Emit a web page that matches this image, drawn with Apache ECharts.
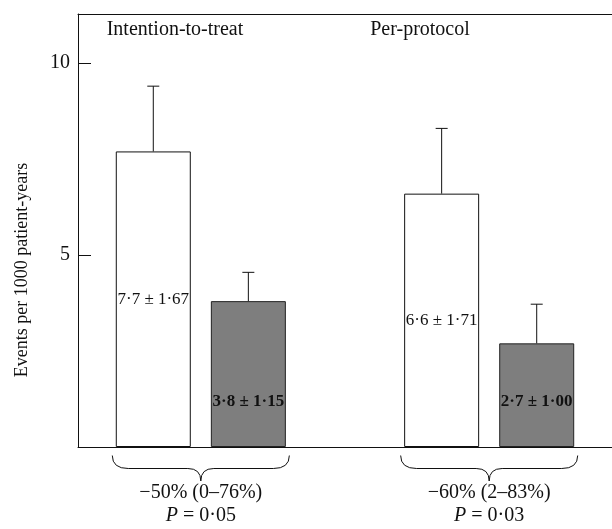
<!DOCTYPE html>
<html>
<head>
<meta charset="utf-8">
<script src="https://cdn.jsdelivr.net/npm/echarts@6/dist/echarts.min.js"></script>
<style>html,body{margin:0;padding:0;background:#fff;}#chart{width:612px;height:529px;}</style>
</head>
<body>
<div id="chart"></div>
<script>
// ---- data ----
const categories = ['Intention-to-treat', 'Per-protocol'];
const controlMeans = [7.7, 6.6];
const treatedMeans = [3.8, 2.7];
const controlUpper = [9.4, 8.3];
const treatedUpper = [4.55, 3.72];
const controlLabels = ['7·7 ± 1·67', '6·6 ± 1·71'];
const treatedLabels = ['3·8 ± 1·15', '2·7 ± 1·00'];
const reductionLabels = ['−50% (0–76%)', '−60% (2–83%)'];
const pValues = ['0·05', '0·03'];
const yTickLabels = [5, 10];
const yAxisTitle = 'Events per 1000 patient-years';

// ---- layout ----
const groupCenters = [23, 77];   // positions on a 0..100 horizontal scale
const barOffset = 8.9;
const FONT = "'Liberation Serif', 'DejaVu Serif', serif";

const chart = echarts.init(document.getElementById('chart'), null, {renderer: 'canvas'});

const controlData = controlMeans.map((v, i) => [groupCenters[i] - barOffset, v]);
const treatedData = treatedMeans.map((v, i) => [groupCenters[i] + barOffset, v]);
const errData = [];
controlMeans.forEach((v, i) => errData.push([groupCenters[i] - barOffset, v, controlUpper[i]]));
treatedMeans.forEach((v, i) => errData.push([groupCenters[i] + barOffset, v, treatedUpper[i]]));
const braceData = groupCenters.map((c, i) => [c, 0, i]);

const option = {
  animation: false,
  backgroundColor: '#fff',
  grid: {left: 78, right: 0, top: 14, bottom: 82},
  xAxis: [
    {type: 'value', min: 0, max: 100, position: 'bottom',
     axisLine: {show: true, lineStyle: {color: '#111', width: 1}},
     axisTick: {show: false}, axisLabel: {show: false}, splitLine: {show: false}},
    {type: 'value', min: 0, max: 100, position: 'top',
     axisLine: {show: true, lineStyle: {color: '#111', width: 1}},
     axisTick: {show: false}, axisLabel: {show: false}, splitLine: {show: false}}
  ],
  yAxis: {
    type: 'value', min: 0, max: 11.28, interval: 5,
    axisLine: {show: true, lineStyle: {color: '#111', width: 1}},
    axisTick: {show: true, inside: true, length: 13, lineStyle: {color: '#111'}},
    axisLabel: {
      margin: 8, color: '#111', fontSize: 20, fontFamily: FONT,
      formatter: v => (yTickLabels.indexOf(v) >= 0 ? String(v) : '')
    },
    splitLine: {show: false}
  },
  graphic: [
    {type: 'text', x: 22, y: 270, rotation: Math.PI / 2,
     style: {text: yAxisTitle, fontSize: 18, fontFamily: FONT, fill: '#111', align: 'center', verticalAlign: 'middle'}},
    {type: 'text', x: 175, y: 30,
     style: {text: categories[0], fontSize: 20, fontFamily: FONT, fill: '#111', align: 'center', verticalAlign: 'middle'}},
    {type: 'text', x: 420, y: 30,
     style: {text: categories[1], fontSize: 20, fontFamily: FONT, fill: '#111', align: 'center', verticalAlign: 'middle'}}
  ],
  series: [
    {
      type: 'bar', name: 'Control', data: controlData, barWidth: 75, barGap: '-100%',
      itemStyle: {color: '#fff', borderColor: '#111', borderWidth: 1},
      label: {show: true, position: 'inside', color: '#111', fontSize: 17, fontFamily: FONT,
              formatter: p => controlLabels[p.dataIndex]}
    },
    {
      type: 'bar', name: 'Treated', data: treatedData, barWidth: 75, barGap: '-100%',
      itemStyle: {color: '#7e7e7e', borderColor: '#222', borderWidth: 1},
      label: {show: true, position: 'insideBottom', distance: 37, color: '#111', fontSize: 17,
              fontWeight: 'bold', fontFamily: FONT,
              formatter: p => treatedLabels[p.dataIndex]}
    },
    {
      type: 'custom', name: 'Error', data: errData, encode: {x: 0, y: 1}, z: 5,
      renderItem: (params, api) => {
        const p0 = api.coord([api.value(0), api.value(1)]);
        const p1 = api.coord([api.value(0), api.value(2)]);
        const style = {stroke: '#111', lineWidth: 1};
        return {type: 'group', children: [
          {type: 'line', shape: {x1: p0[0], y1: p0[1], x2: p1[0], y2: p1[1]}, style},
          {type: 'line', shape: {x1: p1[0] - 6, y1: p1[1], x2: p1[0] + 6, y2: p1[1]}, style}
        ]};
      }
    },
    {
      type: 'custom', name: 'Brace', data: braceData, encode: {x: 0, y: 1}, clip: false, z: 5,
      renderItem: (params, api) => {
        const c = api.coord([api.value(0), 0]);
        const idx = api.value(2);
        const hw = api.size([barOffset, 0])[0] + 41;
        const x0 = c[0] - hw, x1 = c[0] + hw, xm = c[0], y = c[1];
        const yt = y + 8.5, yh = y + 21.5, yb = y + 34;
        const path = `M${x0},${yt} Q${x0},${yh} ${x0 + 16},${yh} L${xm - 13},${yh} Q${xm},${yh} ${xm},${yb} ` +
                     `Q${xm},${yh} ${xm + 13},${yh} L${x1 - 16},${yh} Q${x1},${yh} ${x1},${yt}`;
        return {type: 'group', children: [
          {type: 'path', shape: {pathData: path}, style: {stroke: '#111', lineWidth: 1, fill: null}},
          {type: 'text', style: {text: reductionLabels[idx], x: xm, y: y + 46, align: 'center', verticalAlign: 'middle',
                                 fontSize: 20, fontFamily: FONT, fill: '#111'}},
          {type: 'text', style: {text: '{i|P} = ' + pValues[idx], x: xm, y: y + 69, align: 'center', verticalAlign: 'middle',
                                 fontSize: 20, fontFamily: FONT, fill: '#111',
                                 rich: {i: {fontStyle: 'italic', fontSize: 20, fontFamily: FONT, fill: '#111'}}}}
        ]};
      }
    }
  ]
};
chart.setOption(option);
</script>
</body>
</html>
